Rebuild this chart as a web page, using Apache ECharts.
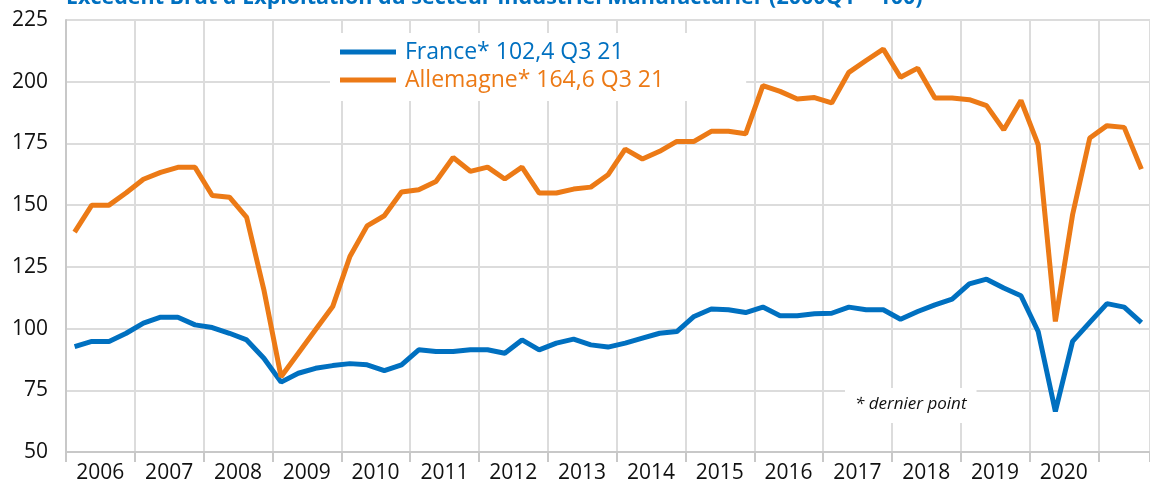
<!DOCTYPE html>
<html>
<head>
<meta charset="utf-8">
<script src="https://cdn.jsdelivr.net/npm/echarts@6/dist/echarts.min.js"></script>
<style>
html,body{margin:0;padding:0;background:#fff;overflow:hidden;}
#chart{width:1150px;height:485px;}
</style>
</head>
<body>
<div id="chart"></div>
<script>
const quarters = [
 "2006Q1","2006Q2","2006Q3","2006Q4","2007Q1","2007Q2","2007Q3","2007Q4",
 "2008Q1","2008Q2","2008Q3","2008Q4","2009Q1","2009Q2","2009Q3","2009Q4",
 "2010Q1","2010Q2","2010Q3","2010Q4","2011Q1","2011Q2","2011Q3","2011Q4",
 "2012Q1","2012Q2","2012Q3","2012Q4","2013Q1","2013Q2","2013Q3","2013Q4",
 "2014Q1","2014Q2","2014Q3","2014Q4","2015Q1","2015Q2","2015Q3","2015Q4",
 "2016Q1","2016Q2","2016Q3","2016Q4","2017Q1","2017Q2","2017Q3","2017Q4",
 "2018Q1","2018Q2","2018Q3","2018Q4","2019Q1","2019Q2","2019Q3","2019Q4",
 "2020Q1","2020Q2","2020Q3","2020Q4","2021Q1","2021Q2","2021Q3"
];
const france = [92.7, 94.8, 94.8, 98.1, 102.2, 104.6, 104.6, 101.5, 100.4, 98.1, 95.4, 88.0, 78.3,
 81.9, 83.9, 85.0, 85.8, 85.3, 83.0, 85.3, 91.4, 90.7, 90.7, 91.4, 91.4,
 90.0, 95.4, 91.4, 94.1, 95.7, 93.4, 92.5, 94.1, 96.1, 98.1, 98.8, 104.9, 107.9,
 107.6, 106.5, 108.7, 105.2, 105.2, 106.0, 106.2, 108.7, 107.6, 107.6, 103.8, 106.9,
 109.6, 111.9, 118.1, 120.0, 116.4, 113.3, 98.8, 66.4, 94.8, 102.5, 110.1, 108.7, 102.4];
const allemagne = [139.1, 150.0, 150.0, 155.0, 160.5, 163.3, 165.3, 165.3, 153.9, 153.2, 145.0, 115.7, 80.5,
 90.0, 99.5, 108.9, 129.2, 141.6, 145.7, 155.3, 156.2, 159.6, 169.3, 163.7, 165.4,
 160.6, 165.4, 154.9, 154.9, 156.5, 157.3, 162.3, 172.7, 168.7, 171.8, 175.8, 175.8, 179.9,
 179.9, 178.9, 198.4, 196.1, 193.0, 193.6, 191.4, 203.8, 208.6, 213.2, 201.8, 205.5,
 193.4, 193.4, 192.7, 190.3, 180.5, 192.4, 174.5, 102.9, 146.1, 177.2, 182.2, 181.5, 164.6];
const seriesNames = ["France", "Allemagne"];
const lastLabel = "Q3 21";
const titleText = "Excédent Brut d'Exploitation du secteur Industriel Manufacturier (2000Q1 = 100)";
const noteText = "* dernier point";

const BLUE = "#0070C0", ORANGE = "#EC7A16";
const FONT = "Open Sans";
const fmt = v => v.toFixed(1).replace(".", ",");
const lastVals = { France: france[france.length - 1], Allemagne: allemagne[allemagne.length - 1] };

const chart = echarts.init(document.getElementById("chart"), null, { renderer: "canvas" });
chart.setOption({
  animation: false,
  backgroundColor: "#fff",
  textStyle: { fontFamily: FONT },
  grid: { left: 66, top: 20, width: 1087, height: 432, containLabel: false },
  xAxis: {
    type: "category",
    data: quarters,
    boundaryGap: true,
    axisLine: { show: true, lineStyle: { color: "#c8c8c8", width: 2 } },
    axisTick: { show: true, length: 10, lineStyle: { color: "#c8c8c8", width: 2 },
      interval: (i) => i % 4 === 0 },
    splitLine: { show: true, lineStyle: { color: "#dcdcdc", width: 2 },
      interval: (i) => i % 4 === 0 },
    axisLabel: {
      interval: (i, v) => i % 4 === 1 && +v.slice(0, 4) < 2021,
      formatter: (v) => "{y|" + v.slice(0, 4) + "}",
      margin: 11,
      rich: { y: { fontFamily: FONT, fontSize: 21, color: "#111", padding: [0, 0, 0, 17] } }
    }
  },
  yAxis: {
    type: "value",
    min: 50, max: 225, interval: 25,
    axisLine: { show: true, lineStyle: { color: "#c8c8c8", width: 2 } },
    axisTick: { show: false },
    splitLine: { show: true, lineStyle: { color: "#dcdcdc", width: 2 } },
    axisLabel: { fontFamily: FONT, fontSize: 21, color: "#111", margin: 18 }
  },
  legend: {
    orient: "vertical",
    left: 330, top: 33,
    padding: [5, 82, 7, 10],
    backgroundColor: "#fff",
    itemWidth: 56, itemHeight: 5, itemGap: 0,
    icon: "rect",
    data: [
      { name: "France", textStyle: { color: BLUE } },
      { name: "Allemagne", textStyle: { color: ORANGE } }
    ],
    formatter: (name) => name + "* " + fmt(lastVals[name]) + " " + lastLabel,
    textStyle: { fontFamily: FONT, fontSize: 23, lineHeight: 28, padding: [0, 0, 0, 4] }
  },
  graphic: [
    { type: "text", left: 66, top: -13, z: 100,
      style: { text: titleText, fill: BLUE, font: "bold 21.5px " + FONT } },
    { type: "text", left: 845, top: 388, z: 100,
      style: { text: noteText, fill: "#111", font: "italic 17px " + FONT,
        backgroundColor: "#fff", padding: [8, 10, 10, 10] } }
  ],
  series: [
    { name: seriesNames[0], type: "line", data: france, symbol: "none",
      lineStyle: { color: BLUE, width: 5 }, itemStyle: { color: BLUE }, z: 3 },
    { name: seriesNames[1], type: "line", data: allemagne, symbol: "none",
      lineStyle: { color: ORANGE, width: 5 }, itemStyle: { color: ORANGE }, z: 4 }
  ]
});
</script>
</body>
</html>
